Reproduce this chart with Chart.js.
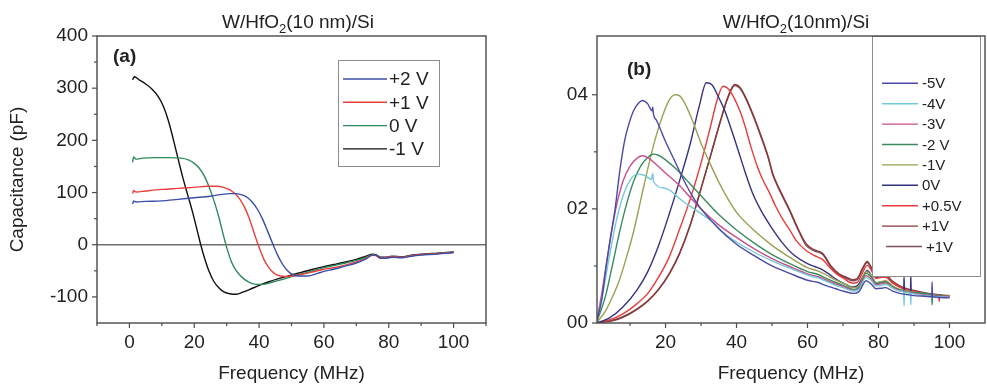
<!DOCTYPE html>
<html>
<head>
<meta charset="utf-8">
<script src="https://cdn.jsdelivr.net/npm/chart.js@4.4.0/dist/chart.umd.min.js"></script>
<style>
  html, body { margin: 0; padding: 0; background: #fff; }
  #wrap { position: relative; width: 987px; height: 386px; }
  .panel { position: absolute; top: 0; height: 386px; }
  #pa { left: 0; width: 493px; }
  #pb { left: 493px; width: 494px; }
</style>
</head>
<body>
<div id="wrap">
  <div class="panel" id="pa"><canvas id="chartA"></canvas></div>
  <div class="panel" id="pb"><canvas id="chartB"></canvas></div>
</div>
<script>
// ------- Data: panel (a), capacitance (pF) vs frequency (MHz) -------
const aLabels = ['+2 V', '+1 V', '0 V', '-1 V'];
const aPlus2V = [[1,78],[1.3,84],[2,82],[5,83],[10,84],[15,87],[20,90],[25,93],[28,96],[31,98],[33,98],[35,95],[36.5,90],[38,81],[39.5,68],[41,50],[42.5,28],[44,5],[45.5,-17],[47,-35],[48.5,-48],[50,-56],[52,-60],[55,-60],[58,-55],[60,-51],[63,-47],[66,-42],[70,-35],[73,-27],[75,-20],[76,-20],[77.5,-26],[79,-26],[81,-24],[84,-25],[87,-22],[90,-20],[95,-18],[100,-15]];
const aPlus1V = [[1,98],[1.3,104],[2,101],[5,103],[10,106],[15,108],[20,110],[24,112],[27,112],[29,110],[31,105],[32.5,98],[34,88],[35.5,72],[37,50],[38.5,22],[40,-5],[41.5,-28],[43,-44],[44.5,-54],[46,-59],[48,-61],[50,-60],[53,-57],[56,-53],[60,-47],[63,-44],[66,-40],[70,-33],[73,-26],[75,-20],[76,-21],[77.5,-26],[79,-25],[81,-23],[84,-24],[87,-21],[90,-19],[95,-17],[100,-15]];
const aZeroV = [[1,158],[1.3,168],[2,164],[4,166],[8,167],[12,167],[16,166],[18,163],[20,156],[21.5,147],[23,133],[24.5,112],[26,86],[27.5,55],[29,18],[30,-5],[31.5,-33],[33,-50],[35,-64],[37,-72],[39,-76],[41,-76],[44,-72],[47,-67],[50,-61],[53,-56],[56,-51],[60,-44],[63,-40],[66,-36],[70,-30],[73,-24],[75,-19],[76,-20],[77.5,-25],[79,-25],[81,-23],[84,-24],[87,-21],[90,-19],[95,-17],[100,-14]];
const aMinus1V = [[1,316],[1.5,322],[3,316],[5,308],[7,298],[9,283],[10.5,265],[12,238],[13.5,203],[15,165],[16.5,128],[18,95],[19.5,62],[21,25],[22,0],[23,-22],[24.5,-50],[26,-70],[27.5,-82],[29,-90],[31,-94],[33,-95],[35,-91],[37,-86],[40,-78],[43,-71],[46,-65],[50,-58],[53,-53],[56,-48],[60,-42],[63,-38],[66,-34],[70,-28],[73,-22],[75,-18],[76,-19],[77.5,-24],[79,-24],[81,-22],[84,-23],[87,-20],[90,-18],[95,-16],[100,-14]];
const aXMajor = [0, 20, 40, 60, 80, 100];
const aXMinor = [-10, 10, 30, 50, 70, 90, 110];
const aYMajor = [-100, 0, 100, 200, 300, 400];
const aYMinor = [-50, 50, 150, 250, 350];
const aTitleParts = [['W/HfO', false], ['2', true], ['(10 nm)/Si', false]];

// ------- Data: panel (b) -------
const bLabels = ['-5V', '-4V', '-3V', '-2 V', '-1V', '0V', '+0.5V', '+1V', '+1V'];
const bMinus5V = [[0.5,0],[2,0.04],[3.3,0.1],[4.5,0.15],[5.8,0.2],[7.2,0.27],[8.5,0.32],[9.5,0.345],[11,0.372],[12.5,0.386],[13.5,0.39],[15,0.384],[16.2,0.372],[16.4,0.378],[16.6,0.366],[17.5,0.355],[20,0.318],[22.6,0.284],[25,0.252],[28,0.218],[30,0.2],[35,0.165],[40,0.138],[45,0.118],[50,0.1],[55,0.087],[60,0.075],[63,0.071],[65,0.066],[68,0.06],[70,0.056],[73,0.052],[74.5,0.055],[76.5,0.074],[78,0.068],[79.3,0.06],[81,0.061],[82,0.062],[84,0.056],[86,0.052],[88,0.05],[90,0.048],[93,0.047],[95,0.046],[95.1,0.072],[95.2,0.046],[100,0.044]];
const bMinus4V = [[0.5,0],[2,0.04],[4,0.11],[6,0.175],[8,0.222],[10,0.25],[12,0.261],[14,0.259],[16,0.252],[16.4,0.262],[16.6,0.248],[20,0.236],[25,0.213],[29,0.196],[33.9,0.174],[36,0.16],[40,0.142],[45,0.124],[50,0.109],[55,0.096],[60,0.084],[63,0.079],[65,0.074],[68,0.066],[70,0.062],[73,0.056],[74.5,0.059],[76.5,0.08],[78,0.074],[79.3,0.065],[81,0.066],[82,0.068],[84,0.061],[86,0.056],[87.1,0.054],[87.2,0.03],[87.3,0.054],[89,0.052],[89.1,0.032],[89.2,0.052],[90,0.051],[95,0.047],[100,0.045]];
const bMinus3V = [[0.5,0],[2,0.05],[4,0.13],[6,0.2],[8,0.248],[10,0.275],[12,0.289],[13.5,0.293],[15,0.29],[17,0.28],[20,0.263],[23.6,0.243],[27,0.22],[30,0.2],[35,0.172],[40,0.15],[45,0.13],[50,0.113],[55,0.099],[60,0.086],[63,0.081],[65,0.076],[68,0.068],[70,0.064],[73,0.057],[74.5,0.06],[76.5,0.083],[78,0.077],[79.3,0.067],[81,0.069],[82,0.07],[84,0.062],[86,0.057],[88,0.054],[90,0.052],[95,0.048],[100,0.046]];
const bMinus2V = [[0.5,0],[3,0.045],[5,0.1],[7,0.158],[9,0.208],[11,0.248],[13,0.275],[15,0.29],[16.5,0.296],[18,0.294],[20,0.286],[23,0.27],[26,0.25],[30,0.223],[35,0.19],[40,0.163],[45,0.14],[50,0.12],[55,0.104],[60,0.09],[63,0.085],[65,0.079],[68,0.071],[70,0.066],[73,0.059],[74.5,0.062],[76.5,0.087],[78,0.08],[79.3,0.069],[81,0.071],[82,0.072],[84,0.063],[86,0.058],[88,0.055],[90,0.053],[95,0.049],[95.1,0.032],[95.2,0.049],[100,0.046]];
const bMinus1V = [[0.5,0],[3,0.02],[5,0.045],[7,0.075],[9,0.115],[11,0.16],[13,0.215],[15,0.27],[17,0.32],[19,0.36],[21,0.39],[22.6,0.4],[24,0.398],[26,0.378],[28.2,0.345],[30,0.315],[32,0.287],[35,0.247],[38,0.213],[40,0.194],[45,0.162],[50,0.136],[55,0.115],[60,0.097],[63,0.091],[65,0.085],[68,0.075],[70,0.07],[73,0.062],[74.5,0.065],[76.5,0.09],[78,0.083],[79.3,0.071],[81,0.073],[82,0.074],[84,0.065],[86,0.059],[88,0.056],[90,0.054],[95,0.049],[100,0.047]];
const bZeroV = [[0.5,0],[4,0.008],[8,0.028],[12,0.058],[15,0.09],[18,0.135],[21,0.19],[24,0.25],[27,0.315],[29.5,0.38],[31.5,0.421],[33,0.418],[35,0.395],[36.7,0.372],[38.5,0.34],[40.5,0.302],[42.5,0.263],[44.5,0.228],[47,0.196],[50,0.166],[53,0.14],[56,0.12],[60,0.104],[62,0.099],[64,0.094],[66,0.086],[68,0.077],[70,0.07],[72.6,0.063],[74,0.065],[75.5,0.08],[76.8,0.092],[78,0.083],[79.3,0.07],[81,0.072],[82,0.073],[84,0.064],[86,0.058],[87.1,0.056],[87.2,0.082],[87.3,0.056],[89,0.054],[89.1,0.085],[89.2,0.054],[90,0.052],[95,0.048],[100,0.046]];
const bPlus05V = [[0.5,0],[4,0.005],[8,0.016],[12,0.034],[15,0.052],[18,0.08],[21,0.115],[24,0.165],[27,0.218],[30,0.28],[32.5,0.34],[34.5,0.39],[36.2,0.415],[38,0.408],[40.8,0.374],[42.5,0.343],[44,0.31],[46,0.272],[47.4,0.251],[49.3,0.228],[51,0.205],[53,0.182],[54.9,0.164],[57,0.143],[59.6,0.127],[62,0.118],[64.3,0.111],[66,0.099],[68,0.087],[70,0.079],[72.6,0.07],[74,0.071],[75.5,0.088],[76.8,0.101],[78,0.092],[79.3,0.078],[81,0.08],[82,0.08],[84,0.07],[86,0.063],[88,0.058],[90,0.055],[95,0.05],[97,0.048],[97.1,0.038],[97.2,0.048],[100,0.047]];
const bPlus1V = [[0.5,0],[5,0.004],[8,0.01],[12,0.024],[15,0.038],[18,0.058],[21,0.085],[24,0.122],[27,0.172],[30,0.235],[33,0.3],[35.5,0.355],[37.5,0.395],[39.5,0.418],[41,0.413],[43,0.39],[45,0.36],[46.5,0.335],[49,0.29],[50.2,0.262],[52,0.236],[55,0.198],[57,0.17],[59.6,0.139],[62,0.128],[64.3,0.122],[66.5,0.101],[68.9,0.086],[71,0.08],[72.6,0.076],[74,0.078],[75.5,0.096],[76.8,0.108],[78,0.097],[79.3,0.082],[81,0.084],[82,0.084],[84,0.073],[86,0.065],[88,0.06],[90,0.057],[95,0.051],[100,0.048]];
const bPlus1Vb = [[0.5,0],[5,0.005],[8,0.011],[12,0.025],[15,0.039],[18,0.059],[21,0.086],[24,0.123],[27,0.173],[30,0.236],[33,0.3],[35.5,0.354],[37.5,0.393],[39.5,0.416],[41,0.411],[43,0.388],[45,0.358],[46.5,0.333],[49,0.288],[50.2,0.26],[52,0.234],[55,0.196],[57,0.168],[59.6,0.136],[62,0.126],[64.3,0.12],[66.5,0.099],[68.9,0.084],[71,0.078],[72.6,0.074],[74,0.076],[75.5,0.094],[76.8,0.106],[78,0.095],[79.3,0.08],[81,0.082],[82,0.082],[84,0.071],[86,0.063],[88,0.058],[90,0.055],[95,0.05],[100,0.047]];
const bXMajor = [20, 40, 60, 80, 100];
const bXMinor = [10, 30, 50, 70, 90];
const bYMajor = [0, 0.2, 0.4];
const bYTickLabels = ['00', '02', '04'];
const bYMinor = [0.1, 0.3];
const bTitleParts = [['W/HfO', false], ['2', true], ['(10nm)/Si', false]];

// ------- Style -------
const FONT = '"Liberation Sans", Arial, sans-serif';
const AXIS = '#4a4a4a';
const TEXT = '#222';
const aColors = ['#3c4ea8', '#e8403f', '#2e8a5c', '#111111'];
const bColors = ['#4a4aa6', '#72cad8', '#c8508c', '#3a8a5e', '#9ca052', '#33337e', '#e83c3c', '#8a3838', '#7e4e5c'];

function toPts(arr) { return arr.map(p => ({ x: p[0], y: p[1] })); }

function makeDatasets(series, labels, colors) {
  return series.map((s, i) => ({
    label: labels[i],
    data: toPts(s),
    borderColor: colors[i],
    borderWidth: 1.4,
    pointRadius: 0,
    fill: false,
    cubicInterpolationMode: 'monotone'
  }));
}

function seg(ctx, x1, y1, x2, y2) {
  ctx.beginPath(); ctx.moveTo(x1, y1); ctx.lineTo(x2, y2); ctx.stroke();
}

function drawTitle(ctx, parts, cx, baseY) {
  const main = '19px ' + FONT, sub = '13px ' + FONT;
  let total = 0;
  parts.forEach(p => { ctx.font = p[1] ? sub : main; total += ctx.measureText(p[0]).width; });
  let x = cx - total / 2;
  ctx.textAlign = 'left';
  ctx.textBaseline = 'alphabetic';
  ctx.fillStyle = TEXT;
  parts.forEach(p => {
    ctx.font = p[1] ? sub : main;
    ctx.fillText(p[0], x, p[1] ? baseY + 5 : baseY);
    x += ctx.measureText(p[0]).width;
  });
}

// ------- Frame, minor ticks, legend and labels -------
const framePlugin = {
  id: 'frame',
  beforeDatasetsDraw(chart, args, o) {
    if (!o.zeroLine) return;
    const { ctx, chartArea: ca, scales } = chart;
    const y0 = scales.y.getPixelForValue(0);
    ctx.save();
    ctx.strokeStyle = '#707070';
    ctx.lineWidth = 1.3;
    seg(ctx, ca.left, y0, ca.right, y0);
    ctx.restore();
  },
  afterDatasetsDraw(chart, args, o) {
    const { ctx, chartArea: ca, scales } = chart;
    ctx.save();
    // legend box (white, over the curves)
    const lg = o.legend;
    ctx.fillStyle = '#fff';
    ctx.fillRect(lg.x, lg.y, lg.w, lg.h);
    ctx.strokeStyle = '#8c8c8c';
    ctx.lineWidth = 1;
    ctx.strokeRect(lg.x + 0.5, lg.y + 0.5, lg.w, lg.h);
    ctx.font = lg.size + 'px ' + FONT;
    ctx.textAlign = 'left';
    ctx.textBaseline = 'middle';
    chart.data.datasets.forEach((ds, i) => {
      const y = lg.row0 + i * lg.step;
      const dx = (lg.indentLast && i === chart.data.datasets.length - 1) ? 4 : 0;
      ctx.strokeStyle = ds.borderColor;
      ctx.lineWidth = 1.4;
      seg(ctx, lg.lx1 + dx, y, lg.lx2 + dx, y);
      ctx.fillStyle = TEXT;
      ctx.fillText(ds.label, lg.tx + dx, y + 1);
    });

    // frame
    ctx.strokeStyle = AXIS;
    ctx.lineWidth = 1.4;
    ctx.strokeRect(ca.left, ca.top, ca.right - ca.left, ca.bottom - ca.top);

    // ticks, outward
    ctx.lineWidth = 1.2;
    o.xMajor.forEach(v => { const px = scales.x.getPixelForValue(v); seg(ctx, px, ca.bottom, px, ca.bottom + 5); });
    o.xMinor.forEach(v => { const px = scales.x.getPixelForValue(v); seg(ctx, px, ca.bottom, px, ca.bottom + 3); });
    o.yMajor.forEach(v => { const py = scales.y.getPixelForValue(v); seg(ctx, ca.left - 5, py, ca.left, py); });
    o.yMinor.forEach(v => { const py = scales.y.getPixelForValue(v); seg(ctx, ca.left - 3, py, ca.left, py); });

    // panel label
    ctx.fillStyle = TEXT;
    ctx.font = 'bold 19px ' + FONT;
    ctx.textAlign = 'left';
    ctx.textBaseline = 'middle';
    ctx.fillText(o.panel.text, o.panel.x, o.panel.y);

    // title
    drawTitle(ctx, o.title.parts, o.title.cx, o.title.y);
    ctx.restore();
  }
};

function makeScales(xMin, xMax, xMajor, yMin, yMax, yMajor, yLabelFn, yTitle, yWidth) {
  return {
    x: {
      type: 'linear', min: xMin, max: xMax,
      afterBuildTicks: s => { s.ticks = xMajor.map(v => ({ value: v })); },
      afterFit: s => { s.height = 63; },
      grid: { display: false, drawTicks: false },
      border: { display: false },
      ticks: { color: TEXT, font: { family: FONT, size: 19 }, padding: 8, maxRotation: 0, autoSkip: false, callback: v => String(v) },
      title: { display: true, text: 'Frequency (MHz)', color: TEXT, font: { family: FONT, size: 19 }, padding: { top: 0, bottom: 1 } }
    },
    y: {
      type: 'linear', min: yMin, max: yMax,
      afterBuildTicks: s => { s.ticks = yMajor.map(v => ({ value: v })); },
      afterFit: s => { s.width = yWidth; },
      grid: { display: false, drawTicks: false },
      border: { display: false },
      ticks: { color: TEXT, font: { family: FONT, size: 19 }, padding: 9, autoSkip: false, callback: yLabelFn },
      title: { display: !!yTitle, text: yTitle || '', color: TEXT, font: { family: FONT, size: 19 }, padding: { top: 6, bottom: 0 } }
    }
  };
}

new Chart(document.getElementById('chartA'), {
  type: 'line',
  data: { datasets: makeDatasets([aPlus2V, aPlus1V, aZeroV, aMinus1V], aLabels, aColors) },
  options: {
    responsive: true, maintainAspectRatio: false, animation: false, devicePixelRatio: 1,
    layout: { padding: { top: 36, right: 7, left: 0, bottom: 0 } },
    scales: makeScales(-10, 110, aXMajor, -150, 400, aYMajor, v => String(v), 'Capacitance (pF)', 97),
    plugins: {
      legend: { display: false }, tooltip: { enabled: false },
      frame: {
        zeroLine: true,
        xMajor: aXMajor, xMinor: aXMinor, yMajor: aYMajor, yMinor: aYMinor,
        legend: { x: 338, y: 60, w: 101, h: 106, row0: 79, step: 23.3, lx1: 343, lx2: 387, tx: 389, size: 19 },
        panel: { text: '(a)', x: 113, y: 57 },
        title: { parts: aTitleParts, cx: 298, y: 28 }
      }
    }
  },
  plugins: [framePlugin]
});

new Chart(document.getElementById('chartB'), {
  type: 'line',
  data: { datasets: makeDatasets([bMinus5V, bMinus4V, bMinus3V, bMinus2V, bMinus1V, bZeroV, bPlus05V, bPlus1V, bPlus1Vb], bLabels, bColors) },
  options: {
    responsive: true, maintainAspectRatio: false, animation: false, devicePixelRatio: 1,
    layout: { padding: { top: 36, right: 2, left: 0, bottom: 0 } },
    scales: makeScales(0.7, 110, bXMajor, 0, 0.503, bYMajor, v => bYTickLabels[bYMajor.indexOf(v)], '', 104),
    plugins: {
      legend: { display: false }, tooltip: { enabled: false },
      frame: {
        zeroLine: false,
        xMajor: bXMajor, xMinor: bXMinor, yMajor: bYMajor, yMinor: bYMinor,
        legend: { x: 379, y: 36, w: 108, h: 240, row0: 83.3, step: 20.4, lx1: 389, lx2: 425, tx: 429, size: 15, indentLast: true },
        panel: { text: '(b)', x: 134, y: 70 },
        title: { parts: bTitleParts, cx: 303, y: 28 }
      }
    }
  },
  plugins: [framePlugin]
});
</script>
</body>
</html>
